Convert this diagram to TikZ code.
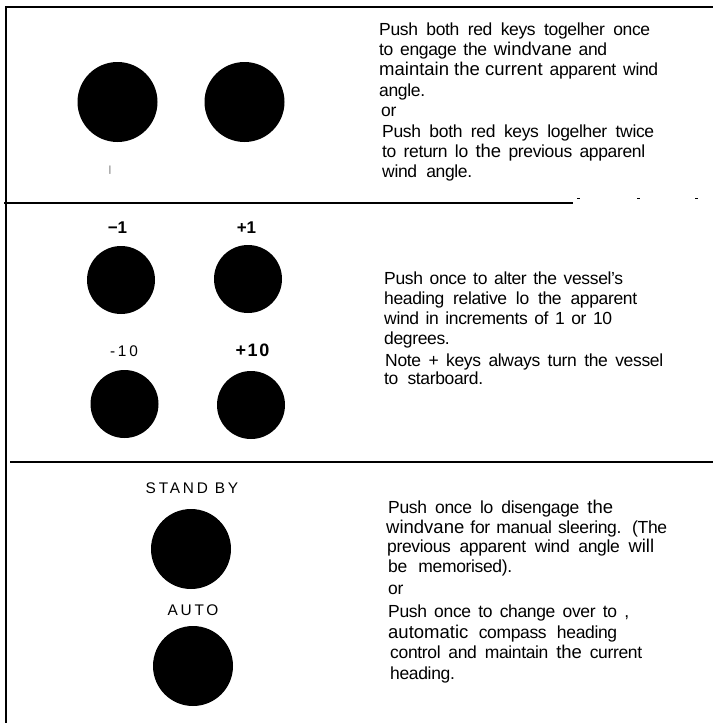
\documentclass[tikz,border=0pt]{standalone}
\usepackage{fontspec}
\setmainfont{Liberation Sans}
\newfontfamily\bodyfont[LetterSpace=-2]{Liberation Sans}
\newfontfamily\trackfont[LetterSpace=18]{Liberation Sans}
\newfontfamily\boldtrack[LetterSpace=9]{Liberation Sans}
\newcommand{\hw}[1]{{\rmfamily\fontsize{18.5}{20}\selectfont #1}}
\newcommand{\fitline}[2]{\makebox[#1pt][s]{#2}}
\tikzset{
  knob/.style={circle, fill=black, draw=none, inner sep=0pt, minimum size=#1},
  txt/.style={anchor=base west, inner sep=0pt, font=\bodyfont\fontsize{17.5}{20}\selectfont},
  lbl/.style={anchor=base, inner sep=0pt, font=\bfseries\fontsize{17}{19}\selectfont},
  caps/.style={anchor=base, inner sep=0pt, font=\trackfont\fontsize{15.4}{18}\selectfont},
  rulebar/.style={line width=2.2pt},
  speck/.style={line width=1pt},
}
\begin{document}
\begin{tikzpicture}[x=1pt,y=-1pt]
\useasboundingbox (0,0) rectangle (713,723);
% frame rules
\draw[rulebar] (5,7) -- (713,7);
\draw[rulebar] (6,7) -- (6,723);
\draw[rulebar] (4,203) -- (573,203);
\draw[speck] (577,198) -- (580,198);
\draw[speck] (637,198) -- (640,198);
\draw[speck] (695,198) -- (698,198);
\draw[rulebar] (10,462) -- (713,462);

% top section
\node[knob=80pt] (r1) at (117.5,102) {};
\node[knob=80pt] (r2) at (244.5,102) {};
\node[inner sep=0pt, font=\fontsize{9}{9}\selectfont, text=black!70] (tick) at (110,170) {|};

\node[txt] (t1) at (379,35.5) {\fitline{271}{Push both red keys togelher once}};
\node[txt] (t2) at (379,55.5) {\fitline{228}{to engage the \hw{windvane} and}};
\node[txt] (t3) at (379,75.5) {\fitline{279}{\mbox{\hw{maintain the current}} apparent wind}};
\node[txt] (t4) at (379,96) {angle.};
\node[txt] (t5) at (381,116) {or};
\node[txt] (t6) at (382,137) {\fitline{272}{Push both red keys logelher twice}};
\node[txt] (t7) at (382,157) {\fitline{263}{to return lo \hw{the} previous apparenl}};
\node[txt] (t8) at (382,177) {\fitline{90}{wind angle.}};

% middle section
\node[lbl] (lm1) at (117.5,233) {−1};
\node[lbl] (lp1) at (246.5,233) {+1};
\node[knob=68pt] (m1) at (121,280) {};
\node[knob=68pt] (p1) at (248,279) {};
\node[caps] (lm10) at (124,356.5) {-10};
\node[lbl, font=\boldtrack\bfseries\fontsize{18}{19}\selectfont] (lp10) at (252.5,356.5) {+10};
\node[knob=68pt] (m10) at (124.5,404) {};
\node[knob=68pt] (p10) at (251,405) {};

\node[txt] (u1) at (384,284) {\fitline{239}{Push once to alter the vessel’s}};
\node[txt] (u2) at (384,304) {\fitline{253}{heading relative lo the apparent}};
\node[txt] (u3) at (384,324.5) {\fitline{228}{wind in increments of 1 or 10}};
\node[txt] (u4) at (384,344) {degrees.};
\node[txt] (u5) at (385,366) {\fitline{278}{Note + keys always turn the vessel}};
\node[txt] (u6) at (384,384.5) {\fitline{99}{to starboard.}};

% bottom section
\node[caps] (sb) at (192,493.3) {STAND BY};
\node[knob=80pt] (ksb) at (191,549) {};
\node[caps] (au) at (193,615) {AUTO};
\node[knob=80pt] (kau) at (193,666) {};

\node[txt] (v1) at (388,513.3) {\fitline{225}{Push once lo disengage \hw{the}}};
\node[txt] (v2) at (386,533.3) {\fitline{281}{\hw{windvane} for manual sleering. (The}};
\node[txt] (v3) at (387,552) {\fitline{267}{previous apparent wind angle \hw{will}}};
\node[txt] (v4) at (388,572) {\fitline{124}{be memorised).}};
\node[txt] (v5) at (388,594) {or};
\node[txt] (v6) at (388,617) {\fitline{241}{Push once to change over to ,}};
\node[txt] (v7) at (388,638.3) {\fitline{229}{\hw{automatic} compass heading}};
\node[txt] (v8) at (390,658.3) {\fitline{252}{control and maintain \hw{the} current}};
\node[txt] (v9) at (390,679.3) {heading.};
\end{tikzpicture}
\end{document}
